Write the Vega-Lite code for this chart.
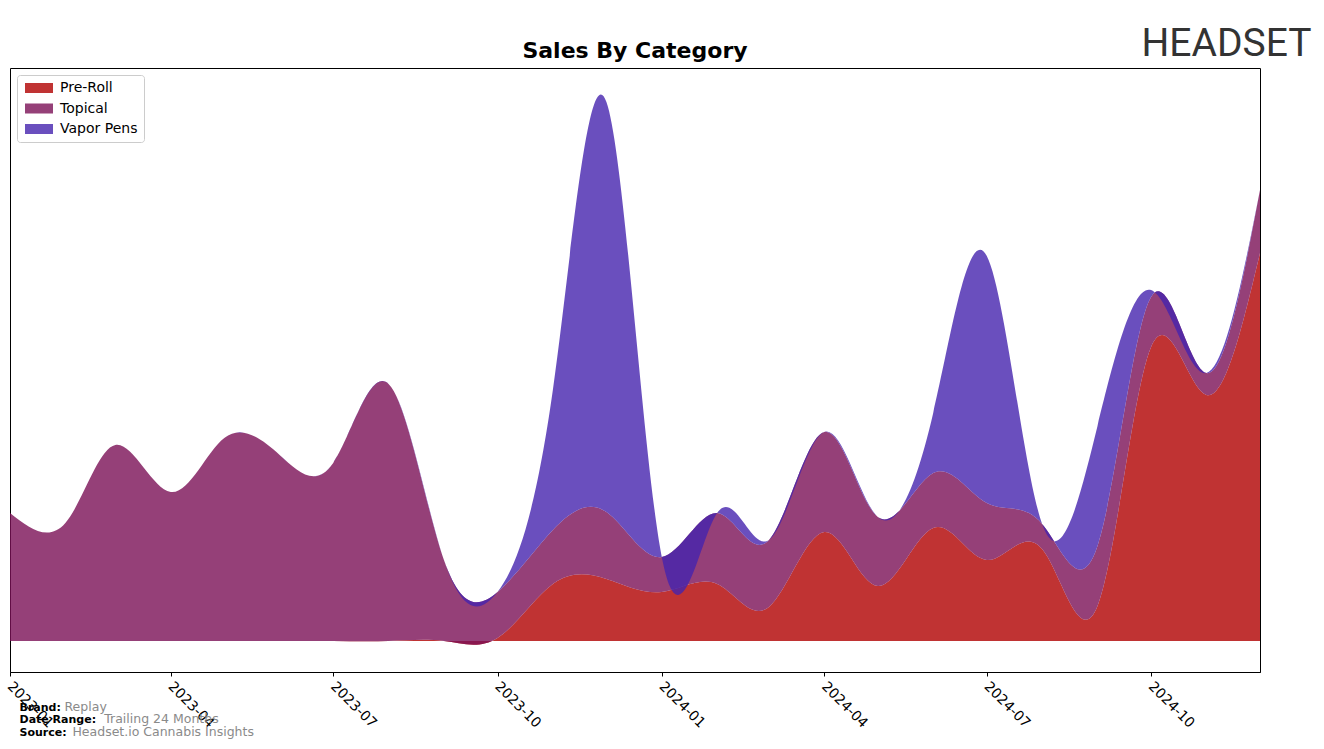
{
  "$schema": "https://vega.github.io/schema/vega-lite/v6.json",
  "width": 1250,
  "height": 604,
  "autosize": {"type": "none"},
  "padding": {"left": 10, "top": 68, "right": 64, "bottom": 77},
  "background": "white",
  "title": {"text": "Sales By Category", "font": "DejaVu Sans", "fontSize": 22, "fontWeight": "bold", "color": "black", "anchor": "middle", "offset": 6, "dy": 45},
  "config": {"view": {"stroke": "black", "strokeWidth": 1}, "font": "DejaVu Sans"},
  "data": {"values": [
    {"month": "2023-01-01", "category": "Pre-Roll", "sales": 0},
    {"month": "2023-02-01", "category": "Pre-Roll", "sales": 0},
    {"month": "2023-03-01", "category": "Pre-Roll", "sales": 0},
    {"month": "2023-04-01", "category": "Pre-Roll", "sales": 0},
    {"month": "2023-05-01", "category": "Pre-Roll", "sales": 0},
    {"month": "2023-06-01", "category": "Pre-Roll", "sales": 0},
    {"month": "2023-07-01", "category": "Pre-Roll", "sales": 0},
    {"month": "2023-08-01", "category": "Pre-Roll", "sales": 0},
    {"month": "2023-09-01", "category": "Pre-Roll", "sales": 0},
    {"month": "2023-10-01", "category": "Pre-Roll", "sales": 3},
    {"month": "2023-11-01", "category": "Pre-Roll", "sales": 57},
    {"month": "2023-12-01", "category": "Pre-Roll", "sales": 62},
    {"month": "2024-01-01", "category": "Pre-Roll", "sales": 49},
    {"month": "2024-02-01", "category": "Pre-Roll", "sales": 57},
    {"month": "2024-03-01", "category": "Pre-Roll", "sales": 34},
    {"month": "2024-04-01", "category": "Pre-Roll", "sales": 109},
    {"month": "2024-05-01", "category": "Pre-Roll", "sales": 55},
    {"month": "2024-06-01", "category": "Pre-Roll", "sales": 113},
    {"month": "2024-07-01", "category": "Pre-Roll", "sales": 81},
    {"month": "2024-08-01", "category": "Pre-Roll", "sales": 92},
    {"month": "2024-09-01", "category": "Pre-Roll", "sales": 35},
    {"month": "2024-10-01", "category": "Pre-Roll", "sales": 294},
    {"month": "2024-11-01", "category": "Pre-Roll", "sales": 246},
    {"month": "2024-12-01", "category": "Pre-Roll", "sales": 388},
    {"month": "2023-01-01", "category": "Topical", "sales": 128},
    {"month": "2023-02-01", "category": "Topical", "sales": 118},
    {"month": "2023-03-01", "category": "Topical", "sales": 196},
    {"month": "2023-04-01", "category": "Topical", "sales": 149},
    {"month": "2023-05-01", "category": "Topical", "sales": 203},
    {"month": "2023-06-01", "category": "Topical", "sales": 186},
    {"month": "2023-07-01", "category": "Topical", "sales": 178},
    {"month": "2023-08-01", "category": "Topical", "sales": 257},
    {"month": "2023-09-01", "category": "Topical", "sales": 81},
    {"month": "2023-10-01", "category": "Topical", "sales": 46},
    {"month": "2023-11-01", "category": "Topical", "sales": 54},
    {"month": "2023-12-01", "category": "Topical", "sales": 67},
    {"month": "2024-01-01", "category": "Topical", "sales": 35},
    {"month": "2024-02-01", "category": "Topical", "sales": 71},
    {"month": "2024-03-01", "category": "Topical", "sales": 67},
    {"month": "2024-04-01", "category": "Topical", "sales": 100},
    {"month": "2024-05-01", "category": "Topical", "sales": 69},
    {"month": "2024-06-01", "category": "Topical", "sales": 55},
    {"month": "2024-07-01", "category": "Topical", "sales": 57},
    {"month": "2024-08-01", "category": "Topical", "sales": 25},
    {"month": "2024-09-01", "category": "Topical", "sales": 60},
    {"month": "2024-10-01", "category": "Topical", "sales": 50},
    {"month": "2024-11-01", "category": "Topical", "sales": 22},
    {"month": "2024-12-01", "category": "Topical", "sales": 63},
    {"month": "2023-01-01", "category": "Vapor Pens", "sales": 0},
    {"month": "2023-02-01", "category": "Vapor Pens", "sales": 0},
    {"month": "2023-03-01", "category": "Vapor Pens", "sales": 0},
    {"month": "2023-04-01", "category": "Vapor Pens", "sales": 0},
    {"month": "2023-05-01", "category": "Vapor Pens", "sales": 0},
    {"month": "2023-06-01", "category": "Vapor Pens", "sales": 0},
    {"month": "2023-07-01", "category": "Vapor Pens", "sales": 0},
    {"month": "2023-08-01", "category": "Vapor Pens", "sales": 0},
    {"month": "2023-09-01", "category": "Vapor Pens", "sales": 0},
    {"month": "2023-10-01", "category": "Vapor Pens", "sales": 0},
    {"month": "2023-11-01", "category": "Vapor Pens", "sales": 140},
    {"month": "2023-12-01", "category": "Vapor Pens", "sales": 410},
    {"month": "2024-01-01", "category": "Vapor Pens", "sales": 0},
    {"month": "2024-02-01", "category": "Vapor Pens", "sales": 0},
    {"month": "2024-03-01", "category": "Vapor Pens", "sales": 0},
    {"month": "2024-04-01", "category": "Vapor Pens", "sales": 0},
    {"month": "2024-05-01", "category": "Vapor Pens", "sales": 0},
    {"month": "2024-06-01", "category": "Vapor Pens", "sales": 60},
    {"month": "2024-07-01", "category": "Vapor Pens", "sales": 247},
    {"month": "2024-08-01", "category": "Vapor Pens", "sales": 0},
    {"month": "2024-09-01", "category": "Vapor Pens", "sales": 120},
    {"month": "2024-10-01", "category": "Vapor Pens", "sales": 7},
    {"month": "2024-11-01", "category": "Vapor Pens", "sales": 0},
    {"month": "2024-12-01", "category": "Vapor Pens", "sales": 0}
  ]},
  "layer": [
    {
      "mark": {"type": "area", "interpolate": "natural", "opacity": 0.8},
      "encoding": {
        "x": {
          "field": "month", "type": "temporal",
          "scale": {"type": "utc", "domain": [{"year": 2023, "month": 1, "date": 1, "utc": true}, {"year": 2024, "month": 12, "date": 1, "utc": true}], "nice": false},
          "axis": {
            "values": [
              {"year": 2023, "month": 1, "date": 1, "utc": true},
              {"year": 2023, "month": 4, "date": 1, "utc": true},
              {"year": 2023, "month": 7, "date": 1, "utc": true},
              {"year": 2023, "month": 10, "date": 1, "utc": true},
              {"year": 2024, "month": 1, "date": 1, "utc": true},
              {"year": 2024, "month": 4, "date": 1, "utc": true},
              {"year": 2024, "month": 7, "date": 1, "utc": true},
              {"year": 2024, "month": 10, "date": 1, "utc": true}
            ],
            "format": "%Y-%m",
            "labelAngle": 45, "labelAlign": "left", "labelBaseline": "top",
            "labelFont": "DejaVu Sans", "labelFontSize": 14, "labelColor": "black",
            "labelPadding": 3, "labelOffset": 4, "labelOverlap": false, "labelBound": false, "labelFlush": false,
            "tickColor": "black", "tickSize": 4, "domainColor": "black", "grid": false,
            "title": ["Brand:", "Date Range:", "Source:"],
            "titleFont": "DejaVu Sans", "titleFontSize": 11, "titleFontWeight": "bold", "titleColor": "black",
            "titleAlign": "left", "titleBaseline": "top", "titleAngle": 0,
            "titleX": 9, "titleY": 29, "titleLineHeight": 12.5
          }
        },
        "y": {
          "field": "sales", "type": "quantitative", "stack": "zero",
          "scale": {"domain": [-31, 573], "nice": false, "zero": false},
          "axis": {
            "orient": "left", "labels": false, "ticks": false, "domain": false, "grid": false,
            "title": ["Replay", "\u200b\u00a0\u00a0\u00a0\u00a0\u00a0\u00a0\u00a0\u00a0\u00a0\u00a0Trailing 24 Months", "\u200b\u00a0\u00a0Headset.io Cannabis Insights"],
            "titleFont": "DejaVu Sans", "titleFontSize": 12.5, "titleFontWeight": "normal", "titleColor": "#8a8a8a",
            "titleAlign": "left", "titleBaseline": "top", "titleAngle": 0,
            "titleX": 54, "titleY": 632, "titleLineHeight": 12.5
          }
        },
        "order": {"field": "category", "sort": "ascending"},
        "color": {
          "field": "category", "type": "nominal",
          "scale": {"domain": ["Pre-Roll", "Topical", "Vapor Pens"], "range": ["#b00000", "#7a1056", "#4523ae"]},
          "legend": {
            "orient": "top-left", "offset": 7, "title": null,
            "symbolType": "M-2.8,-1H2.8V1H-2.8Z", "symbolSize": 100, "symbolStrokeWidth": 0, "symbolOpacity": 0.8,
            "symbolOffset": 9,
            "labelFont": "DejaVu Sans", "labelFontSize": 14, "labelColor": "black", "labelOffset": 14,
            "padding": 6, "rowPadding": 6.5, "strokeColor": "#cccccc", "cornerRadius": 3, "fillColor": "white"
          }
        }
      }
    },
    {
      "mark": {"type": "point", "opacity": 0},
      "encoding": {
        "y": {
          "field": "sales", "type": "quantitative",
          "axis": {
            "orient": "right", "labels": false, "ticks": false, "domain": false, "grid": false,
            "title": "HEADSET",
            "titleFont": "Roboto", "titleFontSize": 39, "titleFontWeight": "normal", "titleColor": "#333333",
            "titleAlign": "left", "titleBaseline": "alphabetic", "titleAngle": 0,
            "titleX": -119, "titleY": -13
          }
        }
      }
    }
  ],
  "resolve": {"scale": {"y": "independent"}}
}
